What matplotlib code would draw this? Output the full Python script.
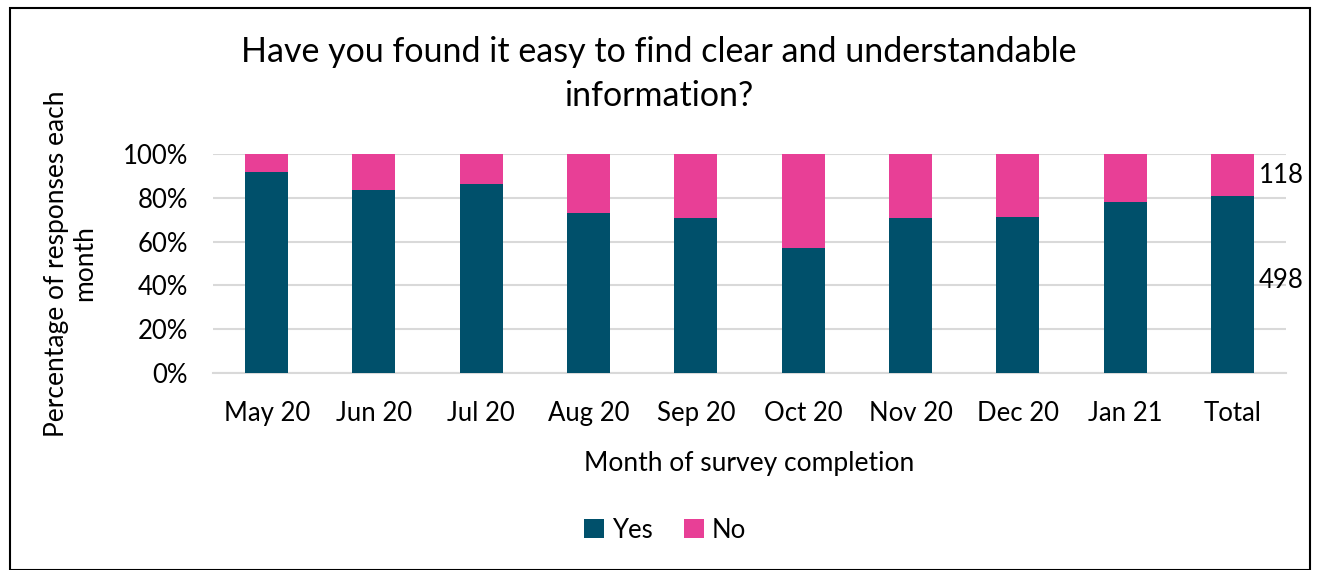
import matplotlib.pyplot as plt
from matplotlib.patches import Rectangle
import numpy as np

plt.rcParams['font.family'] = ['Lato', 'DejaVu Sans']

months = ['May 20', 'Jun 20', 'Jul 20', 'Aug 20', 'Sep 20', 'Oct 20',
          'Nov 20', 'Dec 20', 'Jan 21', 'Total']
yes_pct = [91.6, 83.5, 86.5, 73.2, 70.6, 57.0, 70.6, 71.2, 78.0, 80.8]
no_pct = [100 - v for v in yes_pct]
total_counts = {'Yes': 498, 'No': 118}

yes_color = '#00506B'
no_color = '#E83F96'

fig = plt.figure(figsize=(13.18, 5.70), dpi=100)
ax = fig.add_axes([213 / 1318, 1 - 373 / 570, 1073 / 1318, 219 / 570])

x = np.arange(len(months))
ax.bar(x, yes_pct, width=0.4, color=yes_color, label='Yes', zorder=3)
ax.bar(x, no_pct, width=0.4, bottom=yes_pct, color=no_color, label='No', zorder=3)

# count labels next to Total bar
ax.text(x[-1] + 0.25, yes_pct[-1] / 2 + 2, str(total_counts['Yes']),
        va='center', ha='left', fontsize=18.5)
ax.text(x[-1] + 0.25, yes_pct[-1] + no_pct[-1] / 2, str(total_counts['No']),
        va='center', ha='left', fontsize=18.5)

ax.set_xlim(-0.5, len(months) - 0.5)
ax.set_ylim(0, 100)
ax.set_yticks(range(0, 101, 20))
ax.set_yticklabels([f'{v}%' for v in range(0, 101, 20)])
ax.set_xticks(x)
ax.set_xticklabels(months)
ax.tick_params(axis='both', length=0, labelsize=18.5)
ax.tick_params(axis='x', pad=20)
ax.tick_params(axis='y', pad=18)
ax.yaxis.grid(True, color='#D9D9D9', linewidth=1.5, zorder=0)
for s in ['top', 'right', 'left']:
    ax.spines[s].set_visible(False)
ax.spines['bottom'].set_color('#D9D9D9')
ax.spines['bottom'].set_linewidth(1.5)

ax.set_xlabel('Month of survey completion', fontsize=19, labelpad=18)
ax.set_ylabel('Percentage of responses each\nmonth', fontsize=19, labelpad=18)

fig.text(0.5, 1 - 74 / 570, 'Have you found it easy to find clear and understandable\ninformation?',
         ha='center', va='center', fontsize=24.5, linespacing=1.45)

fig.legend(loc='center', bbox_to_anchor=(665 / 1318, 1 - 530 / 570), ncol=2,
           frameon=False, fontsize=18.5, handlelength=0.8, handleheight=0.8,
           handletextpad=0.3, columnspacing=1.2)

fig.patches.append(Rectangle((10 / 1318, 0), 1300 / 1318, 1 - 8 / 570,
                             transform=fig.transFigure, fill=False,
                             edgecolor='black', linewidth=1.5))

fig.savefig('out.png', dpi=100)
